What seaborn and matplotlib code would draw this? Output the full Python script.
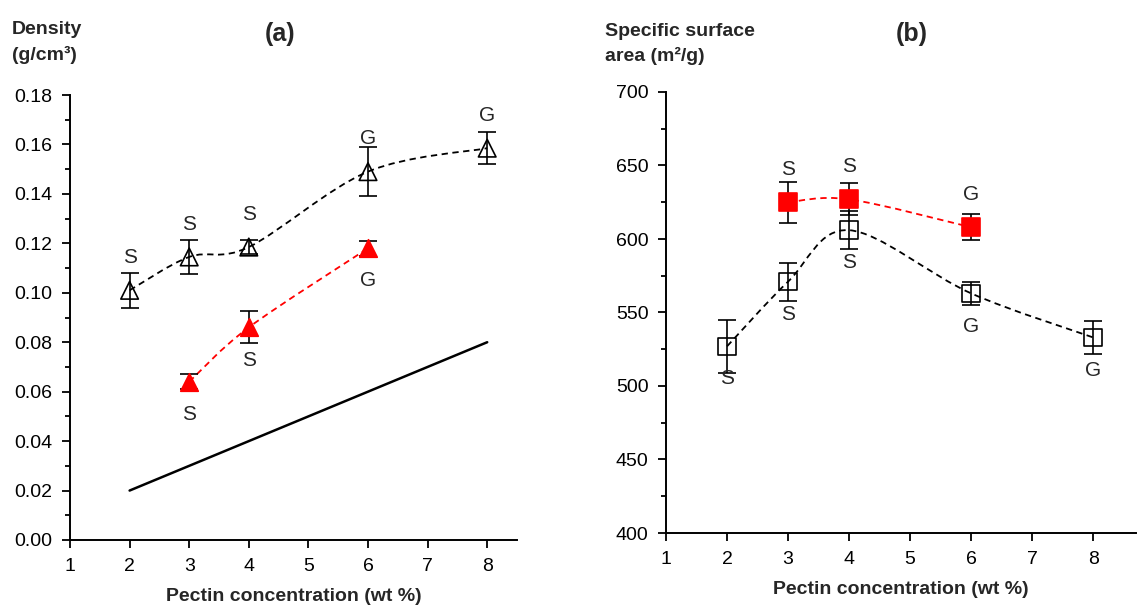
import numpy as np
import pandas as pd
import seaborn as sns
import matplotlib
matplotlib.use("Agg")
import matplotlib.pyplot as plt
from matplotlib.path import Path
from matplotlib.patches import PathPatch
from matplotlib.ticker import MultipleLocator, FormatStrFormatter

# ---- data ----
# (a) density
conc_a_open = [2, 3, 4, 6, 8]
dens_open = [0.101, 0.1145, 0.1185, 0.149, 0.1585]
dens_open_err = [0.007, 0.007, 0.003, 0.010, 0.0065]
dens_open_lab = ["S", "S", "S", "G", "G"]

conc_a_red = [3, 4, 6]
dens_red = [0.064, 0.086, 0.118]
dens_red_err = [0.003, 0.0065, 0.003]
dens_red_lab = ["S", "S", "G"]

ref_x = [2, 8]
ref_y = [0.02, 0.08]

# (b) specific surface area
conc_b_open = [2, 3, 4, 6, 8]
ssa_open = [527, 571, 606, 563, 533]
ssa_open_err = [18, 13, 13, 8, 11]
ssa_open_lab = ["S", "S", "S", "G", "G"]

conc_b_red = [3, 4, 6]
ssa_red = [625, 627, 608]
ssa_red_err = [14, 11, 9]
ssa_red_lab = ["S", "S", "G"]

sns.set_style("white")
plt.rcParams["font.family"] = ["Liberation Sans", "DejaVu Sans"]

W, H = 1137, 608
fig = plt.figure(figsize=(W / 100, H / 100), dpi=100)


def smooth_path(x, y):
    # Excel-style smoothed line: Catmull-Rom segments as cubic Bezier
    pts = np.column_stack([x, y]).astype(float)
    n = len(pts)
    verts = [pts[0]]
    codes = [Path.MOVETO]
    for i in range(n - 1):
        p0 = pts[max(i - 1, 0)]
        p1 = pts[i]
        p2 = pts[i + 1]
        p3 = pts[min(i + 2, n - 1)]
        verts += [p1 + (p2 - p0) / 6, p2 - (p3 - p1) / 6, p2]
        codes += [Path.CURVE4] * 3
    return Path(verts, codes)


def draw_series(ax, x, y, err, labels, color, marker, filled, above):
    df = pd.DataFrame({"x": x, "y": y, "err": err})
    ax.add_patch(PathPatch(smooth_path(df["x"], df["y"]), fill=False,
                           edgecolor=color, lw=1.3, ls=(0, (3.5, 2.5)), zorder=2))
    ax.errorbar(df["x"], df["y"], yerr=df["err"], fmt="none", ecolor="black",
                elinewidth=1.2, capsize=6.5, capthick=1.2, zorder=3)
    sns.scatterplot(data=df, x="x", y="y", marker=marker, s=160, ax=ax,
                    zorder=4, legend=False)
    coll = ax.collections[-1]
    coll.set_facecolor(color if filled else "none")
    coll.set_edgecolor(color)
    coll.set_linewidth(1.2)
    off = 23.5 if above else -23.5
    for xi, yi, lab in zip(x, y, labels):
        ax.annotate(lab, (xi, yi), xytext=(0, off), textcoords="offset points",
                    ha="center", va="center", fontsize=15)


def style_axes(ax, major, minor, fmt):
    sns.despine(ax=ax)
    for s in ("left", "bottom"):
        ax.spines[s].set_linewidth(1.4)
        ax.spines[s].set_color("black")
    ax.xaxis.set_major_locator(MultipleLocator(1))
    ax.yaxis.set_major_locator(MultipleLocator(major))
    ax.yaxis.set_minor_locator(MultipleLocator(minor))
    ax.yaxis.set_major_formatter(FormatStrFormatter(fmt))
    ax.tick_params(which="both", direction="out", bottom=True, left=True,
                   width=1.3, colors="black", labelsize=14)
    ax.tick_params(which="major", length=6)
    ax.tick_params(axis="x", which="major", pad=7)
    ax.tick_params(axis="y", which="major", pad=6.5)
    ax.tick_params(which="minor", length=3.5)
    ax.tick_params(axis="x", which="minor", bottom=False)
    ax.set_xlabel("Pectin concentration (wt %)", fontsize=14, fontweight="bold",
                  labelpad=9)
    ax.set_ylabel("")


# ---- panel (a) ----
ax1 = fig.add_axes([70 / W, 1 - 540 / H, (517 - 70) / W, (540 - 95) / H])
ax1.set_xlim(1, 8.5)
ax1.set_ylim(0, 0.18)
sns.lineplot(x=ref_x, y=ref_y, ax=ax1, color="black", lw=1.8, zorder=2)
draw_series(ax1, conc_a_open, dens_open, dens_open_err, dens_open_lab,
            "black", "^", False, True)
draw_series(ax1, conc_a_red, dens_red, dens_red_err, dens_red_lab,
            "red", "^", True, False)
style_axes(ax1, 0.02, 0.01, "%.2f")

# ---- panel (b) ----
ax2 = fig.add_axes([666 / W, 1 - 533 / H, (1136 - 666) / W, (533 - 92) / H])
ax2.set_xlim(1, 8.7)
ax2.set_ylim(400, 700)
draw_series(ax2, conc_b_open, ssa_open, ssa_open_err, ssa_open_lab,
            "black", "s", False, False)
draw_series(ax2, conc_b_red, ssa_red, ssa_red_err, ssa_red_lab,
            "red", "s", True, True)
style_axes(ax2, 50, 25, "%d")

# ---- titles and y-axis captions ----
fig.text(280 / W, 1 - 34 / H, "(a)", ha="center", va="center", fontsize=18,
         fontweight="bold")
fig.text(912 / W, 1 - 34 / H, "(b)", ha="center", va="center", fontsize=18,
         fontweight="bold")
fig.text(12 / W, 1 - 30 / H, "Density", ha="left", va="center", fontsize=14,
         fontweight="bold")
fig.text(12 / W, 1 - 55 / H, "(g/cm³)", ha="left", va="center", fontsize=14,
         fontweight="bold")
fig.text(605 / W, 1 - 32 / H, "Specific surface", ha="left", va="center",
         fontsize=14, fontweight="bold")
fig.text(605 / W, 1 - 56 / H, "area (m²/g)", ha="left", va="center",
         fontsize=14, fontweight="bold")

fig.savefig("out.png", dpi=100)
